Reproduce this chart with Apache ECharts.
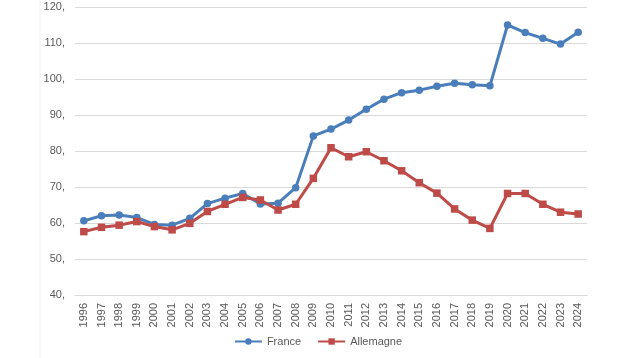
<!DOCTYPE html>
<html>
<head>
<meta charset="utf-8">
<script src="https://cdn.jsdelivr.net/npm/echarts@6/dist/echarts.min.js"></script>
<style>
html,body{margin:0;padding:0;background:#fff;}
#chart{width:636px;height:358px;}
</style>
</head>
<body>
<div id="chart"></div>
<script>
var years = ['1996','1997','1998','1999','2000','2001','2002','2003','2004','2005','2006','2007','2008','2009','2010','2011','2012','2013','2014','2015','2016','2017','2018','2019','2020','2021','2022','2023','2024'];
var france = [60.6,62.0,62.2,61.5,59.6,59.4,61.3,65.4,66.9,68.2,65.3,65.5,69.8,84.2,86.1,88.6,91.6,94.4,96.2,96.9,98.0,98.8,98.4,98.1,115.0,112.9,111.3,109.7,113.0];
var allemagne = [57.6,58.8,59.4,60.4,59.0,58.1,59.9,63.2,65.2,67.1,66.4,63.6,65.2,72.4,80.9,78.4,79.8,77.3,74.5,71.2,68.3,63.9,60.8,58.5,68.2,68.2,65.2,63.0,62.5];
var seriesNames = ['France','Allemagne'];

var chart = echarts.init(document.getElementById('chart'));
chart.setOption({
  animation:false,
  textStyle:{fontFamily:'Liberation Sans'},
  graphic:[{type:'line',shape:{x1:40,y1:0,x2:40,y2:358},style:{stroke:'#f0f0f0',lineWidth:1},silent:true}],
  grid:{left:75,right:49,top:7,bottom:63,containLabel:false},
  legend:{
    data:seriesNames,
    bottom:6,
    left:'center',
    itemWidth:27,
    itemHeight:8,
    itemGap:16,
    textStyle:{color:'#595959',fontSize:11,fontFamily:'Liberation Sans'}
  },
  xAxis:{
    type:'category',
    data:years,
    boundaryGap:true,
    axisLine:{show:true,lineStyle:{color:'#d9d9d9',width:1}},
    axisTick:{show:false},
    axisLabel:{rotate:90,color:'#595959',fontSize:11,margin:8,interval:0}
  },
  yAxis:{
    type:'value',
    min:40,max:120,interval:10,
    axisLine:{show:false},
    axisTick:{show:false},
    splitLine:{lineStyle:{color:'#d9d9d9',width:1}},
    axisLabel:{color:'#595959',fontSize:11,margin:10,formatter:function(v){return v+',';}}
  },
  series:[
    {name:seriesNames[0],type:'line',data:france,symbol:'circle',symbolSize:7.5,
     lineStyle:{color:'#4a7ebb',width:3},itemStyle:{color:'#4a7ebb'}},
    {name:seriesNames[1],type:'line',data:allemagne,symbol:'rect',symbolSize:7.5,
     lineStyle:{color:'#be4b48',width:3},itemStyle:{color:'#be4b48'}}
  ]
});
</script>
</body>
</html>
